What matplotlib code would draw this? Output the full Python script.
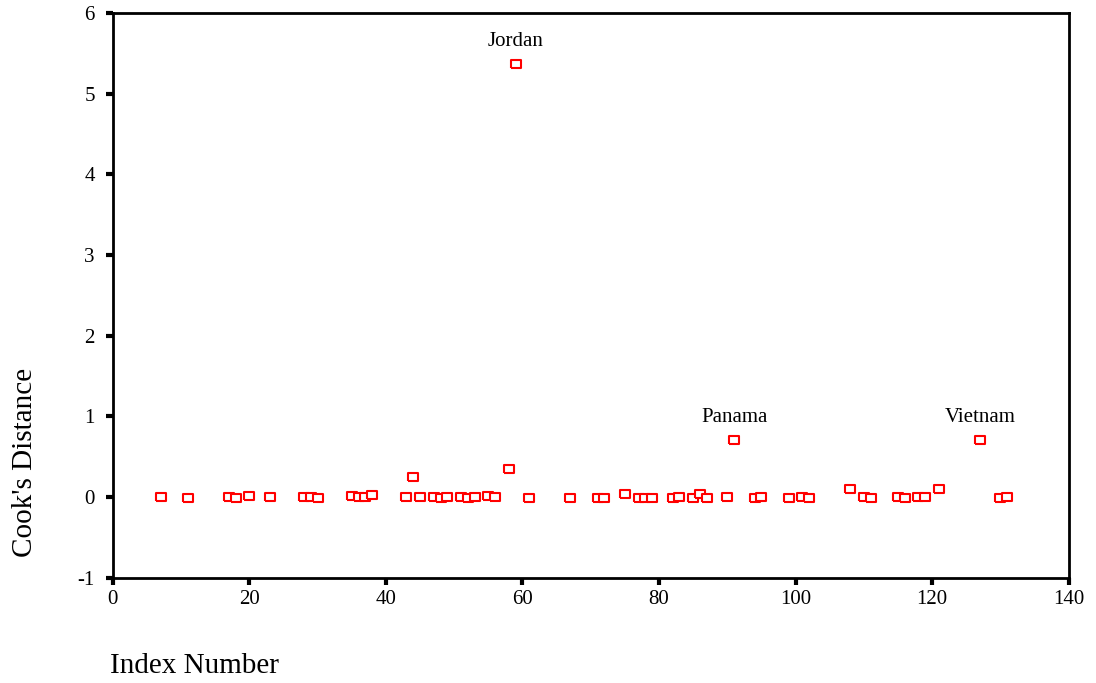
#!/usr/bin/env python3
"""
Cook's distance by case index, with the influential countries labelled.
"""
import matplotlib
matplotlib.use("Agg")
import matplotlib.pyplot as plt

plt.rc("font", family="Liberation Serif")
plt.rc("axes", unicode_minus=False)

index = [7, 11, 17, 18, 20, 23, 28, 29, 30, 35, 36, 37, 38, 43, 44, 45, 47, 48, 49,
         51, 52, 53, 55, 56, 58, 59, 61, 67, 71, 72, 75, 77, 78, 79, 82, 83, 85, 86,
         87, 90, 91, 94, 95, 99, 101, 102, 108, 110, 111, 115, 116, 118, 119, 121,
         127, 130, 131]
cooks = [0.00, -0.01, 0.00, -0.01, 0.02, 0.00, 0.00, 0.00, -0.01, 0.02, 0.00, 0.00,
         0.03, 0.00, 0.25, 0.00, 0.00, -0.01, 0.00, 0.00, -0.01, 0.00, 0.02, 0.00,
         0.35, 5.37, -0.01, -0.01, -0.01, -0.01, 0.04, -0.01, -0.01, -0.01, -0.01,
         0.00, -0.01, 0.04, -0.01, 0.00, 0.71, -0.01, 0.00, -0.01, 0.00, -0.01, 0.10,
         0.00, -0.01, 0.00, -0.01, 0.00, 0.00, 0.10, 0.71, -0.01, 0.00]

labels = {59: "Jordan", 91: "Panama", 127: "Vietnam"}

# slightly wide open rectangle, like the SPSS marker
box = [(-1.2, -1), (1.2, -1), (1.2, 1), (-1.2, 1), (-1.2, -1)]

fig = plt.figure(figsize=(10.96, 6.83), dpi=100)
ax = fig.add_axes([0.103, 0.154, 0.872, 0.827])

ax.plot(index, cooks, linestyle="none", marker=box, markersize=7,
        markerfacecolor="white", markeredgecolor="red", markeredgewidth=1.5)

for i, name in labels.items():
    y = cooks[index.index(i)]
    ax.annotate(name, (i, y), xytext=(0, 9), textcoords="offset points",
                ha="center", va="bottom", fontsize=15)

ax.set(xlim=[0, 140], ylim=[-1, 6])
ax.set_xticks(range(0, 141, 20))
ax.set_yticks(range(-1, 7))
ax.tick_params(direction="out", length=5, width=3, labelsize=15, pad=4)
ax.tick_params(axis="y", pad=8)
for s in ax.spines.values():
    s.set_linewidth(2)

fig.text(25 / 1096, 1 - 462 / 683, "Cook's Distance", rotation=90,
         ha="center", va="center", fontsize=21)
fig.text(110 / 1096, 1 - 666 / 683, "Index Number", ha="left", va="center",
         fontsize=21)

fig.savefig("out.png")
